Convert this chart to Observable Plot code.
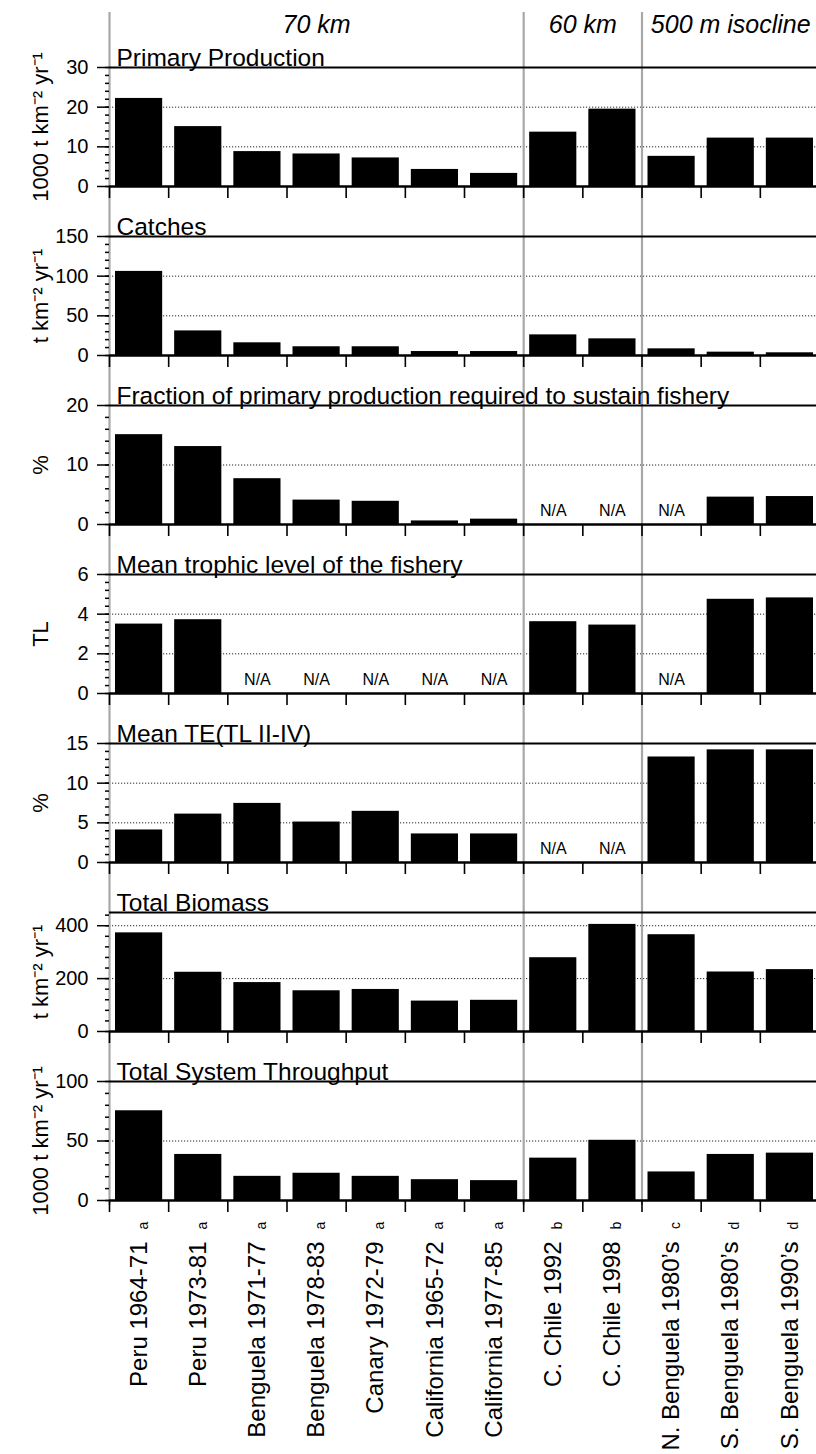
<!DOCTYPE html>
<html><head><meta charset="utf-8">
<script src="https://cdn.jsdelivr.net/npm/d3@7"></script>
<script src="https://cdn.jsdelivr.net/npm/@observablehq/plot@0.6"></script>
<style>
html,body{margin:0;padding:0;background:#fff;overflow:hidden}
#chart svg{display:block;max-width:none}
</style></head><body><div id="chart"></div>
<script>
const categories = ["Peru 1964-71","Peru 1973-81","Benguela 1971-77","Benguela 1978-83","Canary 1972-79","California 1965-72","California 1977-85","C. Chile 1992","C. Chile 1998","N. Benguela 1980’s","S. Benguela 1980’s","S. Benguela 1990’s"];
const sourceNotes = ["a","a","a","a","a","a","a","b","b","c","d","d"];
const groups = ["70 km","60 km","500 m isocline"];
const groupStart = [0,7,9];
const groupEnd = [7,9,12];

const primaryProduction = [22.2, 15.1, 8.8, 8.2, 7.2, 4.3, 3.3, 13.7, 19.5, 7.6, 12.2, 12.2];
const catches = [106, 31, 16, 11, 11, 5, 5, 26, 21, 8.4, 4.2, 3.4];
const fractionPP = [15.1, 13.1, 7.7, 4.1, 3.9, 0.6, 0.9, null, null, null, 4.6, 4.7];
const meanTL = [3.5, 3.72, null, null, null, null, null, 3.62, 3.45, null, 4.75, 4.82];
const meanTE = [4.1, 6.1, 7.45, 5.1, 6.45, 3.6, 3.6, null, null, 13.3, 14.2, 14.2];
const totalBiomass = [373, 224, 185, 154, 159, 115, 118, 279, 405, 366, 225, 234];
const totalThroughput = [75.4, 38.7, 20.3, 22.9, 20.3, 17.5, 16.7, 35.6, 50.6, 24, 38.7, 39.8];

const panelTitles = ["Primary Production","Catches","Fraction of primary production required to sustain fishery","Mean trophic level of the fishery","Mean TE(TL II-IV)","Total Biomass","Total System Throughput"];
const panelUnits = ["1000 t km⁻² yr⁻¹","t km⁻² yr⁻¹","%","TL","%","t km⁻² yr⁻¹","1000 t km⁻² yr⁻¹"];
const panelMax = [30,150,20,6,15,450,100];
const panelTicks = [[0,10,20,30],[0,50,100,150],[0,10,20],[0,2,4,6],[0,5,10,15],[0,200,400],[0,50,100]];
const panelMinorStep = [2,10,2,0.4,1,40,10];
const series = [primaryProduction, catches, fractionPP, meanTL, meanTE, totalBiomass, totalThroughput];

const FONT = "'Liberation Sans', Arial, Helvetica, sans-serif";

function panel(k) {
  const rows = categories.map((c, i) => ({i, c, v: series[k][i], note: sourceNotes[i]}));
  const isFirst = k === 0, isLast = k === series.length - 1;
  const marginTop = isFirst ? 67 : 25;
  const marginBottom = isLast ? 254 : 25;
  const max = panelMax[k];
  const major = panelTicks[k];
  const minor = d3.range(0, max + 1e-9, panelMinorStep[k]);
  const grid = major.filter(t => t > 0 && t < max);
  const marks = [
    Plot.ruleY(grid, {stroke: "#222", strokeWidth: 1, strokeDasharray: "1.2,1.8"}),
    Plot.ruleX(groupStart, {stroke: "#a8a8a8", strokeWidth: 2.2,
      insetTop: -(marginTop - (isFirst ? 12 : 0)),
      insetBottom: isLast ? -5 : -marginBottom}),
    Plot.rectY(rows.filter(d => d.v != null), {x1: "i", x2: d => d.i + 1, y1: 0, y2: "v", fill: "black", insetLeft: 6, insetRight: 6}),
    Plot.text(rows.filter(d => d.v == null), {x: d => d.i + 0.5, y: 0, text: () => "N/A", dy: -14, fontSize: 16}),
    Plot.ruleY([max], {stroke: "black", strokeWidth: 2.2}),
    Plot.ruleY([0], {stroke: "black", strokeWidth: 2.6}),
    Plot.axisY({ticks: minor, tickSize: 4, tickFormat: () => "", label: null, strokeWidth: 1.5}),
    Plot.axisY({ticks: major, tickSize: 12, tickPadding: 9, tickFormat: d => String(d), label: null, fontSize: 20, strokeWidth: 1.5}),
    Plot.axisX({ticks: d3.range(0, 12), tickSize: 12, tickFormat: () => "", label: null, strokeWidth: 1.6}),
    Plot.text([panelTitles[k]], {text: d => d, frameAnchor: "top-left", dx: 7, dy: -2, lineAnchor: "bottom", textAnchor: "start", fontSize: 24.5}),
    Plot.text([panelUnits[k]], {text: d => d, frameAnchor: "left", rotate: -90, dx: -62, lineAnchor: "bottom", textAnchor: "middle", fontSize: 22})
  ];
  if (isFirst) {
    marks.push(Plot.text(groups, {x: (d, i) => (groupStart[i] + groupEnd[i]) / 2, text: d => d, frameAnchor: "top", dy: -43, lineAnchor: "middle", fontSize: 25, fontStyle: "italic"}));
  }
  if (isLast) {
    marks.push(Plot.text(rows, {x: d => d.i + 0.5, text: "c", frameAnchor: "bottom", rotate: -90, textAnchor: "end", lineAnchor: "middle", dy: 41, fontSize: 24}));
    marks.push(Plot.text(rows, {x: d => d.i + 0.5, text: "note", frameAnchor: "bottom", rotate: -90, textAnchor: "middle", lineAnchor: "middle", dx: 4, dy: 25, fontSize: 14}));
  }
  return Plot.plot({
    width: 816,
    height: marginTop + 119 + marginBottom,
    marginTop, marginBottom, marginLeft: 109, marginRight: 0,
    style: {fontFamily: FONT, color: "black", background: "white", overflow: "hidden"},
    x: {type: "linear", domain: [0, 12], range: [109, 819]},
    y: {domain: [0, max]},
    marks
  });
}

const chart = document.getElementById("chart");
for (let k = 0; k < series.length; k++) chart.appendChild(panel(k));
</script>
</body></html>
